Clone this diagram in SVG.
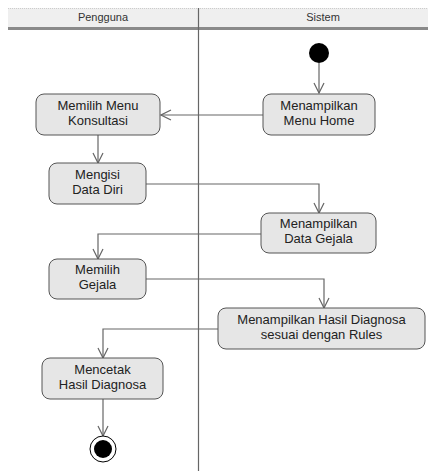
<svg xmlns="http://www.w3.org/2000/svg" width="428" height="471" viewBox="0 0 428 471">
<style>
.lane{font-family:"Liberation Sans",Arial,sans-serif;font-size:11px;fill:#333;text-anchor:middle}
.box{fill:#e6e6e6;stroke:#555;stroke-width:1}
.t{font-family:"Liberation Sans",Arial,sans-serif;font-size:13px;fill:#222;text-anchor:middle}
.c{fill:none;stroke:#666;stroke-width:1.2}
</style>
<defs>
<marker id="open" viewBox="0 0 12 12" refX="11" refY="6" markerWidth="12" markerHeight="12" markerUnits="userSpaceOnUse" orient="auto">
<path d="M1,1 L11,6 L1,11" fill="none" stroke="#666" stroke-width="1.2"/>
</marker>
</defs>
<rect width="428" height="471" fill="#fff"/>
<g id="header">
<rect x="8" y="8" width="420" height="19" fill="#efefef"/>
<line x1="8" y1="8.5" x2="428" y2="8.5" stroke="#ccc" stroke-dasharray="1,1"/>
<rect x="8" y="27" width="420" height="3" fill="#8a8a8a"/>
<text class="lane" x="103" y="21">Pengguna</text>
<text class="lane" x="323" y="21">Sistem</text>
</g>
<line id="divider" x1="198.5" y1="8" x2="198.5" y2="471" stroke="#666" stroke-width="1.2"/>
<g id="connectors">
<path class="c" d="M319,63 V93" marker-end="url(#open)"/>
<path class="c" d="M263,115 H161" marker-end="url(#open)"/>
<path class="c" d="M98,135 V163" marker-end="url(#open)"/>
<path class="c" d="M146,184 H319 V213" marker-end="url(#open)"/>
<path class="c" d="M261,234 H98 V259" marker-end="url(#open)"/>
<path class="c" d="M146,279 H324 V308" marker-end="url(#open)"/>
<path class="c" d="M218,329 H103 V358" marker-end="url(#open)"/>
<path class="c" d="M103,399 V436" marker-end="url(#open)"/>
</g>
<g id="start"><circle cx="319" cy="53" r="10" fill="#000"/></g>
<g id="menuHome">
<rect class="box" x="263" y="94" width="112" height="41" rx="8"/>
<text class="t" x="319" y="110">Menampilkan</text>
<text class="t" x="319" y="125">Menu Home</text>
</g>
<g id="konsultasi">
<rect class="box" x="36" y="94" width="124" height="41" rx="8"/>
<text class="t" x="98" y="110">Memilih Menu</text>
<text class="t" x="98" y="125">Konsultasi</text>
</g>
<g id="dataDiri">
<rect class="box" x="49" y="163" width="97" height="41" rx="8"/>
<text class="t" x="97.5" y="179">Mengisi</text>
<text class="t" x="97.5" y="194">Data Diri</text>
</g>
<g id="dataGejala">
<rect class="box" x="261" y="213" width="115" height="40" rx="8"/>
<text class="t" x="318.5" y="228">Menampilkan</text>
<text class="t" x="318.5" y="243">Data Gejala</text>
</g>
<g id="pilihGejala">
<rect class="box" x="49" y="259" width="97" height="40" rx="8"/>
<text class="t" x="97.5" y="274">Memilih</text>
<text class="t" x="97.5" y="289">Gejala</text>
</g>
<g id="hasil">
<rect class="box" x="218" y="308" width="207" height="41" rx="8"/>
<text class="t" x="321.5" y="324">Menampilkan Hasil Diagnosa</text>
<text class="t" x="321.5" y="339">sesuai dengan Rules</text>
</g>
<g id="cetak">
<rect class="box" x="42" y="358" width="121" height="41" rx="8"/>
<text class="t" x="102.5" y="374">Mencetak</text>
<text class="t" x="102.5" y="389">Hasil Diagnosa</text>
</g>
<g id="end">
<circle cx="103" cy="449" r="13" fill="#fff" stroke="#000" stroke-width="1"/>
<circle cx="103" cy="449" r="9" fill="#000"/>
</g>
</svg>
